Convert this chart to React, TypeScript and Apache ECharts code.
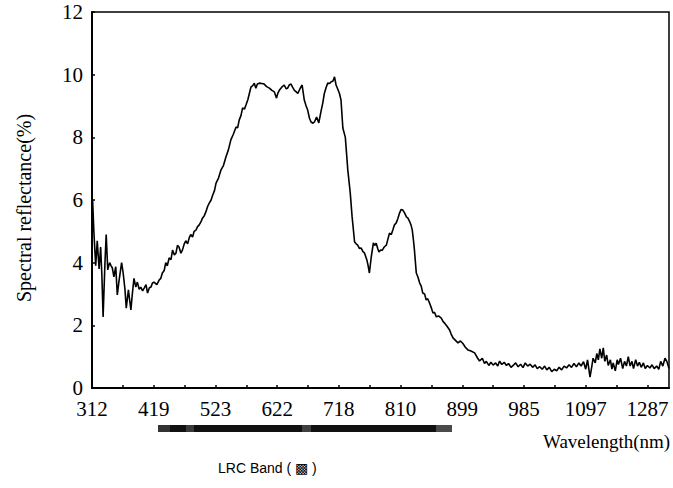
import React, { useEffect, useRef } from "react";
import * as echarts from "echarts";

// x: band index (10 bands per tick), y: spectral reflectance (%)
const bands: number[] = [
  0.0, 0.2, 0.6, 1.2, 1.7, 2.3, 2.8, 3.2, 3.6, 4.2, 4.6, 5.1, 5.7, 6.2, 6.6, 7.1, 7.7, 8.2, 8.8, 9.6,
  10.1, 10.7, 11.1, 11.8, 12.6, 13.1, 13.6, 14.2, 14.7, 15.3, 15.8, 16.4, 16.9, 17.5, 18.0, 18.6, 19.1, 19.6, 20.1, 21.0,
  21.8, 22.3, 22.8, 23.4, 23.9, 24.4, 25.0, 25.6, 26.1, 26.7, 27.2, 27.7, 28.2, 28.8, 29.3, 29.9, 30.4, 31.0, 31.5, 32.0,
  32.6, 33.1, 33.7, 34.2, 34.7, 35.3, 35.8, 36.4, 36.9, 37.5, 38.0, 38.6, 39.1, 39.7, 40.2, 41.0, 41.8, 42.6, 43.4, 44.2,
  45.0, 45.8, 46.7, 47.2, 47.7, 48.3, 48.8, 49.4, 49.9, 50.5, 51.0, 51.5, 52.1, 52.6, 53.1, 53.6, 54.2, 55.0, 55.8, 56.6,
  57.5, 58.3, 59.1, 59.8, 60.2, 60.7, 61.5, 62.3, 62.9, 63.4, 64.0, 64.5, 65.0, 65.6, 66.2, 66.7, 67.4, 68.1, 68.8, 69.4,
  69.9, 70.5, 71.0, 71.6, 72.1, 72.8, 73.5, 74.3, 74.8, 75.3, 75.9, 76.4, 77.0, 77.5, 78.1, 78.6, 79.1, 79.6, 80.2, 80.7,
  81.3, 82.1, 82.9, 83.7, 84.3, 85.1, 85.6, 86.1, 86.7, 87.2, 87.8, 88.3, 88.7, 89.1, 89.5, 89.9, 90.5, 91.2, 91.6, 92.1,
  92.6, 93.0, 93.5, 94.1, 94.7, 95.4, 95.9, 96.4, 97.0, 97.5, 98.0, 98.6, 99.1, 99.7, 100.2, 100.7, 101.3, 101.9, 102.4, 102.9,
  103.4, 103.8, 104.2, 104.5, 105.1, 105.6, 106.2, 106.7, 107.2, 107.8, 108.3, 108.8, 109.4, 110.0, 110.5, 111.0, 111.6, 112.3, 113.2, 113.8,
  114.3, 115.0, 115.9, 116.4, 117.0, 117.8, 118.6, 119.4, 120.2, 121.0, 121.9, 122.8, 124.0, 125.0, 125.6, 126.5, 127.2, 127.8, 128.6, 129.3,
  130.0, 130.8, 131.5, 132.1, 132.8, 133.6, 134.3, 135.0, 135.8, 136.5, 137.3, 138.1, 138.9, 139.7, 140.4, 141.2, 142.0, 142.8, 143.6, 144.3,
  145.1, 145.9, 146.7, 147.4, 148.2, 149.0, 149.8, 150.6, 151.4, 152.2, 153.0, 153.8, 154.6, 155.4, 156.2, 157.0, 157.8, 158.5, 159.3, 160.0,
  160.6, 161.4, 162.0, 162.4, 163.1, 163.6, 164.1, 164.6, 165.2, 165.7, 166.2, 166.8, 167.3, 168.0, 168.5, 168.9, 169.6, 170.2, 170.6, 171.3,
  172.0, 172.6, 173.2, 173.8, 174.4, 175.0, 175.5, 176.2, 176.8, 177.4, 178.0, 178.7, 179.3, 180.0, 180.8, 181.5, 182.2, 183.0, 183.7, 184.3,
  185.0, 185.7, 186.3, 187.0,
];

const reflectance: number[] = [
  5.5, 6.0, 5.0, 3.9, 4.7, 3.8, 4.5, 3.6, 2.27, 4.0, 4.9, 3.77, 4.0, 3.9, 3.83, 3.55, 3.87, 2.97, 3.45, 4.0,
  3.67, 3.13, 2.55, 3.13, 2.49, 3.03, 3.5, 3.22, 3.38, 3.15, 3.22, 3.1, 3.19, 3.3, 3.03, 3.2, 3.22, 3.35, 3.38, 3.3,
  3.45, 3.5, 3.67, 3.75, 4.0, 3.9, 4.15, 4.1, 4.4, 4.25, 4.3, 4.55, 4.5, 4.3, 4.4, 4.6, 4.7, 4.6, 4.79, 4.9,
  4.82, 5.0, 5.04, 5.15, 5.2, 5.3, 5.42, 5.5, 5.62, 5.8, 5.9, 6.0, 6.15, 6.3, 6.54, 6.7, 6.96, 7.1, 7.37, 7.6,
  7.92, 8.1, 8.33, 8.3, 8.55, 8.7, 8.94, 8.9, 9.03, 9.2, 9.4, 9.6, 9.65, 9.73, 9.57, 9.7, 9.73, 9.72, 9.7, 9.62,
  9.57, 9.5, 9.45, 9.25, 9.4, 9.5, 9.6, 9.67, 9.55, 9.57, 9.68, 9.7, 9.6, 9.5, 9.45, 9.4, 9.55, 9.67, 9.19, 9.0,
  8.87, 8.6, 8.49, 8.45, 8.49, 8.65, 8.46, 8.87, 9.1, 9.4, 9.6, 9.73, 9.72, 9.77, 9.8, 9.93, 9.67, 9.55, 9.4, 9.19,
  8.3, 8.0, 6.96, 6.22, 5.46, 4.66, 4.6, 4.56, 4.45, 4.47, 4.35, 4.31, 4.2, 4.08, 3.9, 3.67, 4.18, 4.63, 4.55, 4.62,
  4.45, 4.34, 4.4, 4.4, 4.5, 4.56, 4.75, 4.94, 4.9, 5.04, 5.2, 5.27, 5.4, 5.59, 5.7, 5.68, 5.59, 5.46, 5.42, 5.32,
  5.2, 5.04, 4.7, 4.4, 3.67, 3.55, 3.35, 3.25, 3.03, 3.0, 2.81, 2.85, 2.71, 2.55, 2.39, 2.42, 2.27, 2.3, 2.23, 2.12,
  2.07, 1.98, 1.85, 1.72, 1.6, 1.52, 1.44, 1.5, 1.42, 1.3, 1.21, 1.18, 1.12, 0.95, 0.86, 0.95, 0.78, 0.85, 0.72, 0.82,
  0.73, 0.8, 0.7, 0.86, 0.75, 0.82, 0.72, 0.78, 0.66, 0.72, 0.8, 0.68, 0.76, 0.65, 0.8, 0.7, 0.76, 0.66, 0.74, 0.62,
  0.68, 0.6, 0.7, 0.58, 0.66, 0.52, 0.6, 0.55, 0.66, 0.58, 0.7, 0.64, 0.74, 0.66, 0.78, 0.68, 0.8, 0.7, 0.84, 0.6,
  0.9, 0.35, 0.7, 0.95, 0.8, 1.1, 0.9, 1.25, 0.95, 1.28, 0.85, 1.05, 0.72, 0.9, 0.6, 0.8, 0.55, 0.9, 0.75, 0.95,
  0.62, 0.85, 0.7, 1.0, 0.7, 0.85, 0.62, 0.9, 0.7, 0.82, 0.66, 0.8, 0.62, 0.72, 0.64, 0.74, 0.62, 0.7, 0.6, 0.85,
  0.7, 0.95, 0.85, 0.62,
];

const tickLabels: string[] = ["312", "419", "523", "622", "718", "810", "899", "985", "1097", "1287"];
const labelStep = 20;
const xMax = 187;

const SERIF = "'Liberation Serif', 'Times New Roman', serif";

export default function App() {
  const ref = useRef<HTMLDivElement>(null);
  useEffect(() => {
    if (!ref.current) return;
    const chart = echarts.init(ref.current, undefined, { renderer: "svg" });
    const data = bands.map((b, i) => [b, reflectance[i]]);
    chart.setOption({
      animation: false,
      backgroundColor: "#ffffff",
      grid: {
        left: 92,
        right: 4,
        top: 12,
        bottom: 100,
        show: true,
        borderColor: "#000",
        borderWidth: 1.5,
        backgroundColor: "transparent",
      },
      xAxis: {
        type: "value",
        min: 0,
        max: xMax,
        interval: 10,
        splitLine: { show: false },
        axisLine: { show: true, onZero: false, lineStyle: { color: "#000", width: 2 } },
        axisTick: { show: true, inside: true, length: 3, lineStyle: { color: "#000", width: 1.5 } },
        axisLabel: {
          showMaxLabel: false,
          margin: 10,
          color: "#000",
          fontFamily: SERIF,
          fontSize: 21,
          formatter: (v: number) => {
            if (v % labelStep !== 0) return "";
            const idx = v / labelStep;
            return tickLabels[idx] ?? "";
          },
        },
      },
      yAxis: {
        type: "value",
        min: 0,
        max: 12,
        interval: 2,
        splitLine: { show: false },
        axisLine: { show: true, lineStyle: { color: "#000", width: 2 } },
        axisTick: { show: true, inside: true, length: 3, lineStyle: { color: "#000", width: 1.5 } },
        axisLabel: {
          margin: 9,
          color: "#000",
          fontFamily: SERIF,
          fontSize: 21,
          padding: [7, 0, 0, 0],
        },
      },
      graphic: [
        {
          type: "text",
          x: 24,
          y: 208,
          rotation: Math.PI / 2,
          style: {
            text: "Spectral reflectance(%)",
            font: `20px ${SERIF}`,
            fill: "#000",
            textAlign: "center",
            textVerticalAlign: "middle",
          },
        },
        {
          type: "text",
          x: 543,
          y: 441,
          style: {
            text: "Wavelength(nm)",
            font: `19px ${SERIF}`,
            fill: "#000",
            textAlign: "left",
            textVerticalAlign: "middle",
          },
        },
        {
          type: "rect",
          shape: { x: 158, y: 425, width: 294, height: 7 },
          style: { fill: "#111" },
        },
        {
          type: "rect",
          shape: { x: 158, y: 425, width: 12, height: 7 },
          style: { fill: "#333" },
        },
        {
          type: "rect",
          shape: { x: 186, y: 425, width: 8, height: 7 },
          style: { fill: "#3a3a3a" },
        },
        {
          type: "rect",
          shape: { x: 302, y: 425, width: 9, height: 7 },
          style: { fill: "#404040" },
        },
        {
          type: "rect",
          shape: { x: 436, y: 425, width: 16, height: 7 },
          style: { fill: "#4a4a4a" },
        },
        {
          type: "text",
          x: 218,
          y: 468,
          style: {
            text: "LRC Band ( ▩ )",
            font: "14px 'Liberation Sans', Arial, sans-serif",
            fill: "#000",
            textAlign: "left",
            textVerticalAlign: "middle",
          },
        },
      ],
      series: [
        {
          type: "line",
          data,
          showSymbol: false,
          symbol: "none",
          lineStyle: { color: "#000", width: 1.6 },
          smooth: false,
        },
      ],
    });
    return () => chart.dispose();
  }, []);
  return (
    <div
      ref={ref}
      style={{ position: "absolute", left: 0, top: 0, width: 673, height: 488, background: "#fff" }}
    />
  );
}
